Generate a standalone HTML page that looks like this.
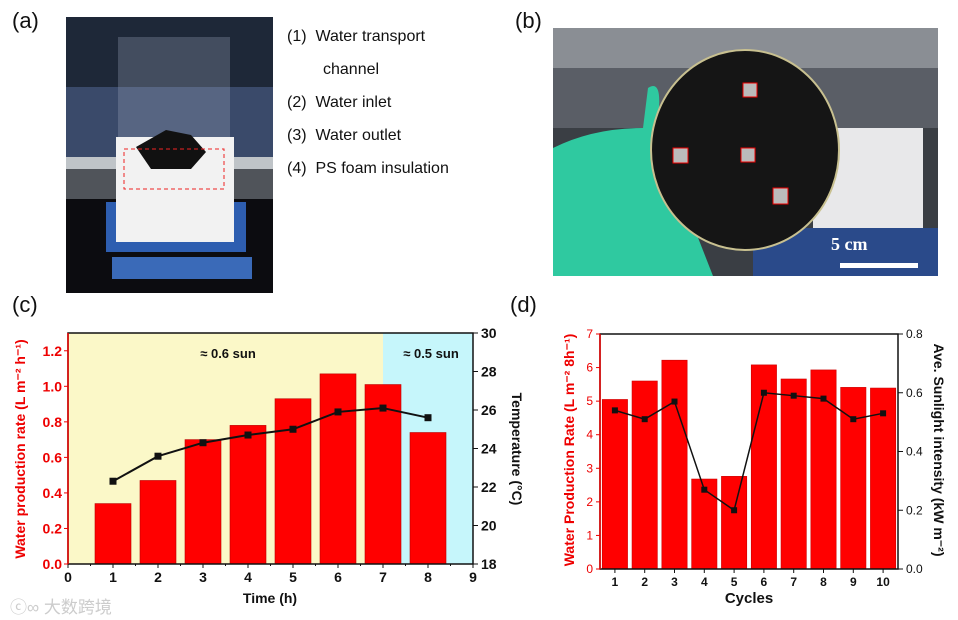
<!DOCTYPE html>
<html><head><meta charset="utf-8"><style>
body{margin:0;width:958px;height:620px;background:#fff;overflow:hidden;font-family:"Liberation Sans",Arial,sans-serif;position:relative}
.lbl{position:absolute;font-size:22px;color:#111}
.leg{position:absolute;left:287px;font-size:16px;color:#111}
</style></head><body>
<div class="lbl" style="left:12px;top:8px">(a)</div>
<div class="lbl" style="left:515px;top:8px">(b)</div>
<div class="lbl" style="left:12px;top:292px">(c)</div>
<div class="lbl" style="left:510px;top:292px">(d)</div>

<svg style="position:absolute;left:66px;top:17px" width="207" height="276">
<rect width="207" height="276" fill="#0c0c10"/>
<rect width="207" height="140" fill="#3a4a6a"/>
<rect y="0" width="207" height="70" fill="#1e2838"/>
<rect y="140" width="207" height="12" fill="#bfc4c8"/>
<rect y="152" width="207" height="30" fill="#50545a"/>
<rect x="52" y="20" width="112" height="185" fill="#9aa4b8" opacity="0.3"/>
<rect x="46" y="240" width="140" height="22" fill="#3a6ab8"/>
<rect x="40" y="185" width="140" height="50" fill="#2e5eb0"/>
<rect x="50" y="120" width="118" height="105" fill="#f2f2f2"/>
<path d="M70 130 L100 113 L125 118 L140 135 L125 152 L85 152 Z" fill="#111"/>
<rect x="58" y="132" width="100" height="40" fill="none" stroke="#e22" stroke-dasharray="4,3"/>
</svg>
<div class="leg" style="top:28px">(1)&nbsp; Water transport</div>
<div class="leg" style="top:61px;left:323px">channel</div>
<div class="leg" style="top:94px">(2)&nbsp; Water inlet</div>
<div class="leg" style="top:127px">(3)&nbsp; Water outlet</div>
<div class="leg" style="top:160px">(4)&nbsp; PS foam insulation</div>

<svg style="position:absolute;left:553px;top:28px" width="385" height="248">
<rect width="385" height="248" fill="#3a3e44"/>
<rect width="385" height="40" fill="#8a8e94"/>
<rect y="40" width="385" height="60" fill="#5a5e66"/>
<rect x="260" y="100" width="110" height="110" fill="#e8e8ea"/>
<rect x="200" y="200" width="185" height="48" fill="#2a4a8a"/>
<path d="M0 120 Q40 100 90 100 L95 60 Q110 50 105 90 L110 120 L160 248 L0 248 Z" fill="#2fc9a0"/>
<ellipse cx="192" cy="122" rx="94" ry="100" fill="#151515" stroke="#c8c090" stroke-width="2"/>
<rect x="120" y="120" width="15" height="15" fill="#bbb" stroke="#e00"/>
<rect x="190" y="55" width="14" height="14" fill="#bbb" stroke="#e00"/>
<rect x="188" y="120" width="14" height="14" fill="#bbb" stroke="#e00"/>
<rect x="220" y="160" width="15" height="16" fill="#bbb" stroke="#e00"/>
<text x="278" y="222" fill="#fff" font-family="Liberation Serif" font-weight="bold" font-size="18">5 cm</text>
<rect x="287" y="235" width="78" height="5" fill="#fff"/>
</svg>

<svg id="cc" style="position:absolute;left:0;top:0" width="958" height="620"></svg>
<div style="position:absolute;left:10px;top:593px;color:#ccc;font-size:17px;font-family:'Liberation Sans','Noto Sans CJK SC',sans-serif">ⓒ∞ 大数跨境</div>
<script>
const cTimes=[1,2,3,4,5,6,7,8];
const cRate=[0.34,0.47,0.70,0.78,0.93,1.07,1.01,0.74];
const cTemp=[22.3,23.6,24.3,24.7,25.0,25.9,26.1,25.6];
const cXTicks=[0,1,2,3,4,5,6,7,8,9];
const cYTicks=[0,0.2,0.4,0.6,0.8,1.0,1.2];
const cY2Ticks=[18,20,22,24,26,28,30];
const dCycles=[1,2,3,4,5,6,7,8,9,10];
const dRate=[5.05,5.6,6.22,2.68,2.76,6.08,5.66,5.93,5.41,5.39];
const dSun=[0.54,0.51,0.57,0.27,0.20,0.60,0.59,0.58,0.51,0.53];
const dYTicks=[0,1,2,3,4,5,6,7];
const dY2Ticks=[0,0.2,0.4,0.6,0.8];

const svg=document.getElementById('cc');const NS='http://www.w3.org/2000/svg';
function el(t,a,txt){const e=document.createElementNS(NS,t);for(const k in a)e.setAttribute(k,a[k]);if(txt!==undefined)e.textContent=txt;svg.appendChild(e);return e;}
const F='Liberation Sans, Arial, sans-serif';

const cL=68,cR=473,cT=333,cB=564;
const cx=v=>cL+(v-0)/9*(cR-cL);
const cy=v=>cB-v/1.3*(cB-cT);
const cy2=v=>cB-(v-18)/12*(cB-cT);
let r=el('rect',{x:cL,y:cT,width:cx(7)-cL,height:cB-cT,fill:'#fbf8c8'});

r=el('rect',{x:cx(7),y:cT,width:cR-cx(7),height:cB-cT,fill:'#c6f6fb'});

cTimes.forEach((t,i)=>{const b=el('rect',{x:cx(t-0.4),y:cy(cRate[i]),width:cx(0.8)-cx(0),height:cB-cy(cRate[i]),fill:'#f00',stroke:'#b00','stroke-width':0.6});
});
let p=el('polyline',{points:cTimes.map((t,i)=>cx(t)+','+cy2(cTemp[i])).join(' '),fill:'none',stroke:'#111','stroke-width':2});

cTimes.forEach((t,i)=>{const m=el('rect',{x:cx(t)-3.5,y:cy2(cTemp[i])-3.5,width:7,height:7,fill:'#111'});
});
el('rect',{x:cL,y:cT,width:cR-cL,height:cB-cT,fill:'none',stroke:'#111','stroke-width':1.5});
el('line',{x1:cL,y1:cT,x2:cL,y2:cB,stroke:'#e00','stroke-width':1.5});
cXTicks.forEach(t=>{el('line',{x1:cx(t),y1:cB,x2:cx(t),y2:cB+4,stroke:'#111'});el('text',{x:cx(t),y:cB+18,'text-anchor':'middle','font-size':14,'font-weight':'bold','font-family':F,fill:'#111'},t);
if(t<9)el('line',{x1:cx(t+0.5),y1:cB,x2:cx(t+0.5),y2:cB+2,stroke:'#111'});});
cYTicks.forEach(t=>{el('line',{x1:cL-4,y1:cy(t),x2:cL,y2:cy(t),stroke:'#e00'});el('text',{x:cL-6,y:cy(t)+5,'text-anchor':'end','font-size':14,'font-weight':'bold','font-family':F,fill:'#e00'},t.toFixed(1));});
cY2Ticks.forEach(t=>{el('line',{x1:cR,y1:cy2(t),x2:cR+5,y2:cy2(t),stroke:'#111'});el('text',{x:cR+8,y:cy2(t)+5,'font-size':14,'font-weight':'bold','font-family':F,fill:'#111'},t);});
let tx=el('text',{x:270,y:603,'text-anchor':'middle','font-size':14,'font-weight':'bold','font-family':F,fill:'#111'},'Time (h)');

tx=el('text',{transform:'translate(25,449) rotate(-90)','text-anchor':'middle','font-size':14,'font-weight':'bold','font-family':F,fill:'#e00'},'Water production rate (L m⁻² h⁻¹)');

tx=el('text',{transform:'translate(512,449) rotate(90)','text-anchor':'middle','font-size':14,'font-weight':'bold','font-family':F,fill:'#111'},'Temperature (°C)');

el('text',{x:228,y:358,'text-anchor':'middle','font-size':13,'font-weight':'bold','font-family':F,fill:'#111'},'≈ 0.6 sun');
el('text',{x:431,y:358,'text-anchor':'middle','font-size':13,'font-weight':'bold','font-family':F,fill:'#111'},'≈ 0.5 sun');

const dL=600,dR=898,dT=334,dB=569;
const dx=v=>dL+(v-0.5)/10*(dR-dL);
const dy=v=>dB-v/7*(dB-dT);
const dy2=v=>dB-v/0.8*(dB-dT);
dCycles.forEach((c,i)=>{const b=el('rect',{x:dx(c-0.425),y:dy(dRate[i]),width:dx(0.85)-dx(0),height:dB-dy(dRate[i]),fill:'#f00',stroke:'#c00','stroke-width':0.6});
});
p=el('polyline',{points:dCycles.map((c,i)=>dx(c)+','+dy2(dSun[i])).join(' '),fill:'none',stroke:'#111','stroke-width':1.5});

dCycles.forEach((c,i)=>{const m=el('rect',{x:dx(c)-3,y:dy2(dSun[i])-3,width:6,height:6,fill:'#111'});
});
el('rect',{x:dL,y:dT,width:dR-dL,height:dB-dT,fill:'none',stroke:'#111','stroke-width':1.5});
el('line',{x1:dL,y1:dT,x2:dL,y2:dB,stroke:'#e00','stroke-width':1.5});
dCycles.forEach(c=>{el('line',{x1:dx(c),y1:dB,x2:dx(c),y2:dB+4,stroke:'#111'});el('text',{x:dx(c),y:dB+17,'text-anchor':'middle','font-size':12,'font-weight':'bold','font-family':F,fill:'#111'},c);});
dYTicks.forEach(t=>{el('line',{x1:dL-4,y1:dy(t),x2:dL,y2:dy(t),stroke:'#e00'});el('text',{x:dL-7,y:dy(t)+4,'text-anchor':'end','font-size':12,'font-family':F,fill:'#e00'},t);});
dY2Ticks.forEach(t=>{el('line',{x1:dR,y1:dy2(t),x2:dR+5,y2:dy2(t),stroke:'#111'});el('text',{x:dR+8,y:dy2(t)+4,'font-size':12,'font-family':F,fill:'#111'},t.toFixed(1));});
tx=el('text',{x:749,y:603,'text-anchor':'middle','font-size':15,'font-weight':'bold','font-family':F,fill:'#111'},'Cycles');

tx=el('text',{transform:'translate(574,450) rotate(-90)','text-anchor':'middle','font-size':14,'font-weight':'bold','font-family':F,fill:'#e00'},'Water Production Rate (L m⁻² 8h⁻¹)');

tx=el('text',{transform:'translate(934,450) rotate(90)','text-anchor':'middle','font-size':14,'font-weight':'bold','font-family':F,fill:'#111'},'Ave. Sunlight intensity (kW m⁻²)');

</script>
</body></html>
